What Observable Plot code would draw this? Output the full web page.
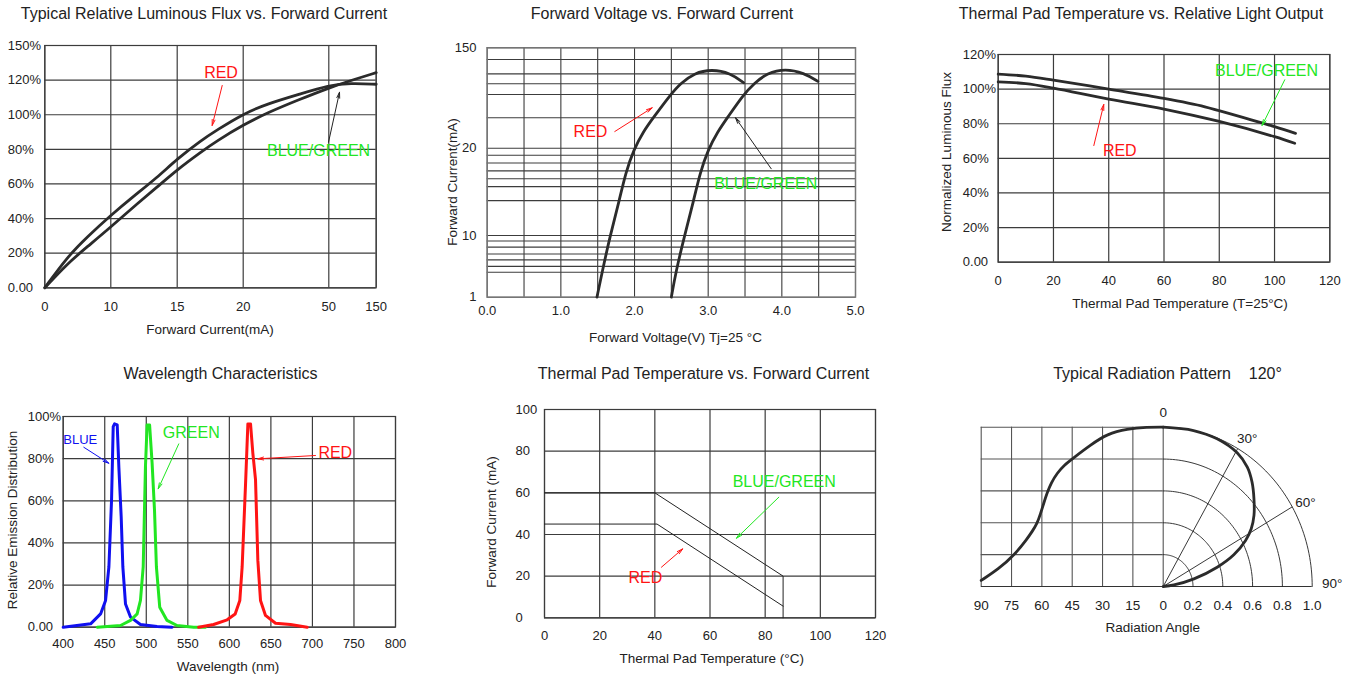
<!DOCTYPE html>
<html><head><meta charset="utf-8">
<script src="https://cdn.jsdelivr.net/npm/d3@7"></script>
<script src="https://cdn.jsdelivr.net/npm/@observablehq/plot@0.6"></script>
<style>
body{margin:0;background:#fff;}
#root{position:relative;width:1352px;height:677px;overflow:hidden;font-family:'Liberation Sans',Arial,Helvetica,sans-serif;color:#222;background:#fff;}
</style></head>
<body><div id="root"></div>
<script>
// ---------------- DATA ----------------
// Panel 1: Typical Relative Luminous Flux vs. Forward Current
const p1CurrentTicks = [0, 10, 15, 20, 50, 150];
const p1FluxTicks = [0, 20, 40, 60, 80, 100, 120, 140];
const p1FluxLabels = ["0.00", "20%", "40%", "60%", "80%", "100%", "120%", "150%"];
const p1RedCurrent = [0, 3.4, 6.4, 10, 11.7, 13.5, 15, 16.8, 18, 20, 28.4, 40, 50, 95.8, 150];
const p1RedFlux    = [0, 17.8, 29.3, 41.9, 52.8, 63.8, 74.5, 85.1, 91.1, 100.5, 106.3, 112.0, 117.0, 118.3, 117.6];
const p1BgCurrent  = [0, 3.4, 6.4, 10, 11.7, 13.5, 15, 16.8, 18, 20, 28.4, 40, 50, 95.8, 150];
const p1BgFlux     = [0, 13.9, 23.6, 35.1, 46.7, 58.3, 68.3, 78.5, 84.9, 94.1, 101.1, 109.0, 115.5, 119.7, 124.3];

// Panel 2: Forward Voltage vs. Forward Current
const p2VoltGrid = [0, 0.5, 1, 1.5, 2, 2.5, 3, 3.5, 4, 4.5, 5];
const p2VoltTicks = [0, 1, 2, 3, 4, 5];
const p2VoltLabels = ["0.0", "1.0", "2.0", "3.0", "4.0", "5.0"];
const p2CurrentTicks = [1, 10, 20, 150];
const p2CurrentLabels = ["1", "10", "20", "150"];
const p2CurrentGrid = [1, 4.65, 5.5, 6.45, 7.3, 8.3, 9.2, 10, 14, 15.6, 16.5, 17.4, 18.3, 19.2, 20, 59.4, 89.5, 103.4, 116.3, 134.8, 150];
const p2RedVolt    = [1.49, 1.56, 1.67, 1.79, 1.88, 1.99, 2.12, 2.254, 2.49, 2.62, 2.81, 3.05, 3.3, 3.48];
const p2RedCurrent = [1, 4.65, 10, 13.9, 17.2, 19.85, 41.6, 59.4, 89.6, 103.5, 117.4, 122.2, 117.4, 104.8];
const p2BgVolt     = [2.5, 2.56, 2.68, 2.80, 2.89, 3.0, 3.13, 3.26, 3.48, 3.62, 3.8, 4.05, 4.3, 4.49];
const p2BgCurrent  = [1, 4.65, 10, 13.9, 17.2, 19.85, 41.6, 59.4, 89.6, 103.5, 117.4, 123, 117.4, 106.5];

// Panel 3: Thermal Pad Temperature vs. Relative Light Output
const p3TempTicks = [0, 20, 40, 60, 80, 100, 120];
const p3FluxTicks = [0, 20, 40, 60, 80, 100, 120];
const p3FluxLabels = ["0.00", "20%", "40%", "60%", "80%", "100%", "120%"];
const p3BgTemp  = [0, 10, 20, 40, 60, 74.8, 80, 100, 107.6];
const p3BgFlux  = [108.7, 107.5, 105.2, 100, 94.6, 89.8, 87.5, 78.3, 74.4];
const p3RedTemp = [0, 10, 20, 40, 60, 80, 100, 107.3];
const p3RedFlux = [104.2, 103.2, 100.6, 94.2, 88.5, 81.3, 72.5, 68.7];

// Panel 4: Wavelength Characteristics
const p4NmTicks = [400, 450, 500, 550, 600, 650, 700, 750, 800];
const p4PctTicks = [0, 20, 40, 60, 80, 100];
const p4PctLabels = ["0.00", "20%", "40%", "60%", "80%", "100%"];
const p4BlueNm  = [400, 433, 445, 451, 455, 458.2, 460.2, 461.8, 465, 467, 469.8, 471.8, 475, 481, 493, 513, 531];
const p4BluePct = [0, 1.6, 6.3, 12.7, 28.6, 60.3, 95.2, 96.5, 96, 76, 52.4, 28.6, 11, 4.8, 1.3, 0.3, 0];
const p4GreenNm  = [441, 469, 481, 489, 493, 496.3, 499, 501, 504, 507, 509.9, 512.2, 516.2, 525, 537, 557, 571];
const p4GreenPct = [0, 0.8, 3.2, 6.3, 12.7, 28.6, 76, 96, 96, 78, 55.6, 28.6, 9.5, 3.2, 0.8, 0, 0];
const p4RedNm  = [563, 581, 597.4, 607, 612.6, 615.4, 619.5, 622.3, 625.5, 628.3, 631.5, 634.3, 637.5, 643.5, 655.6, 673.6, 693.7];
const p4RedPct = [0, 1.3, 3.5, 6.3, 12.7, 28.6, 68, 96.5, 96.5, 82.5, 70, 31.7, 12.7, 5.6, 1.9, 1.3, 0];

// Panel 5: Thermal Pad Temperature vs. Forward Current
const p5TempTicks = [0, 20, 40, 60, 80, 100, 120];
const p5CurrentTicks = [0, 20, 40, 60, 80, 100];
const p5BgTemp = [0, 40, 86.5, 86.5];
const p5BgCurrent = [60, 60, 20, 0];
const p5RedTemp = [0, 40.8, 86.5];
const p5RedCurrent = [45, 45, 5.6];

// Panel 6: Typical Radiation Pattern 120°
const p6AngleTicks = [90, 75, 60, 45, 30, 15, 0];
const p6RadiusTicks = [0.2, 0.4, 0.6, 0.8, 1.0];
const p6RadiusLabels = ["0.2", "0.4", "0.6", "0.8", "1.0"];
const p6Spokes = [30, 60];
const p6LeftAngle     = [90, 81.3, 73.5, 67.3, 64.8, 62.3, 60.7, 59.0, 57.4, 55.4, 52.4, 48.8, 45.0, 35.9, 27.7, 17.8, 7.9, 0];
const p6LeftIntensity = [0.038, 0.111, 0.199, 0.299, 0.345, 0.397, 0.456, 0.525, 0.588, 0.651, 0.713, 0.764, 0.801, 0.889, 0.958, 0.990, 1.0, 1.0];
const p6PolarAngle     = [0, 11.75, 21.3, 30.6, 37.0, 42.3, 47.9, 53.8, 58.5, 62.4, 67.2, 71.5, 76.9, 82.1, 90];
const p6PolarIntensity = [1.0, 1.0, 0.995, 0.975, 0.938, 0.886, 0.821, 0.755, 0.693, 0.624, 0.514, 0.382, 0.212, 0.073, 0];

// ---------------- HELPERS ----------------
const FONT = "'Liberation Sans', Arial, Helvetica, sans-serif";
const root = document.getElementById("root");
const GRID = "#3c3c3c", CURVE = "#2b2b2b", INK = "#222";
const RED = "#ff1414", GREEN = "#22e622", BLUE = "#1010f0";
const rad = Math.PI / 180;
const id = d => d;

function label(text, x, y, {size = 13.5, rotate = 0, color = INK} = {}) {
  const d = document.createElement("div");
  d.textContent = text;
  d.style.cssText = `position:absolute;left:${x}px;top:${y}px;font-size:${size}px;color:${color};white-space:pre;line-height:1;transform:translate(-50%,-50%) rotate(${rotate}deg);`;
  root.appendChild(d);
}
function place(svg, left, top) {
  svg.style.position = "absolute";
  svg.style.left = left + "px";
  svg.style.top = top + "px";
  root.appendChild(svg);
}
const idx = a => d3.range(a.length);
function series(xs, ys, opts, fx = id, fy = id) {
  return Plot.line(idx(xs), {x: i => fx(xs[i]), y: i => fy(ys[i]), curve: "catmull-rom", ...opts});
}
function xLabels(ticks, labels, dy, fx = id, extra = {}) {
  return Plot.text(ticks, {x: d => fx(d), text: (d, i) => labels[i], frameAnchor: "bottom", dy, lineAnchor: "middle", fontSize: 13, fill: INK, ...extra});
}
function yLabels(ticks, labels, dx, anchor = "start", fy = id, extra = {}) {
  return Plot.text(ticks, {y: d => fy(d), text: (d, i) => labels[i], frameAnchor: "left", textAnchor: anchor, dx, lineAnchor: "middle", fontSize: 13, fill: INK, ...extra});
}
function note(a, color, size = 16, fx = id, fy = id) {
  return Plot.text([a], {x: d => fx(d.x), y: d => fy(d.y), text: d => d.text, fill: color, fontSize: size, lineAnchor: "middle"});
}
function pointer(a, color, fx = id, fy = id) {
  return Plot.arrow([a], {x1: d => fx(d.x1), y1: d => fy(d.y1), x2: d => fx(d.x2), y2: d => fy(d.y2), stroke: color, strokeWidth: 1, headLength: 9, headAngle: 28});
}
const style = {fontFamily: FONT, fontSize: "13px", background: "transparent", overflow: "visible", color: INK};

// ---------------- PANEL 1 ----------------
// non-uniform current axis of the original: piecewise mapping to pixel offsets
const p1X = d3.scaleLinear().domain(p1CurrentTicks).range([0, 66, 132.4, 198.4, 284, 331.4]);
label("Typical Relative Luminous Flux vs. Forward Current", 204, 14, {size: 16});
label("Forward Current(mA)", 210, 330);
place(Plot.plot({
  width: 400, height: 300,
  marginLeft: 44.3, marginRight: 24.3, marginTop: 15, marginBottom: 42.7,
  x: {domain: [0, 331.4], axis: null},
  y: {domain: [0, 140], axis: null},
  style,
  marks: [
    Plot.ruleX(p1CurrentTicks, {x: d => p1X(d), stroke: GRID, strokeWidth: 1.2}),
    Plot.ruleY(p1FluxTicks, {stroke: GRID, strokeWidth: 1.2}),
    Plot.frame({stroke: GRID, strokeWidth: 1.2}),
    series(p1RedCurrent, p1RedFlux, {stroke: CURVE, strokeWidth: 2.8, curve: "basis"}, p1X),
    series(p1BgCurrent, p1BgFlux, {stroke: CURVE, strokeWidth: 2.8, curve: "basis"}, p1X),
    xLabels(p1CurrentTicks, p1CurrentTicks.map(String), 19.4, p1X),
    yLabels(p1FluxTicks, p1FluxLabels, -37),
    note({x: 18.32, y: 124.4, text: "RED"}, RED, 16, p1X),
    pointer({x1: 18.41, y1: 116.9, x2: 17.65, y2: 93.8}, RED, p1X),
    note({x: 46.4, y: 79.3, text: "BLUE/GREEN"}, GREEN, 16, p1X),
    pointer({x1: 49.9, y1: 84.1, x2: 72.6, y2: 113.0}, "#222", p1X)
  ]
}), 0, 30);

// ---------------- PANEL 2 ----------------
const p2Y = d3.scaleLinear().domain(p2CurrentTicks).range([0, 61.7, 149, 249.4]);
label("Forward Voltage vs. Forward Current", 662, 14, {size: 16});
label("Forward Voltage(V) Tj=25 °C", 675.5, 338.3);
label("Forward Current(mA)", 453.3, 181.5, {rotate: -90});
place(Plot.plot({
  width: 440, height: 320,
  marginLeft: 56.7, marginRight: 15, marginTop: 17.3, marginBottom: 53.3,
  x: {domain: [0, 5], axis: null},
  y: {domain: [0, 249.4], axis: null},
  style,
  marks: [
    Plot.ruleX(p2VoltGrid, {stroke: GRID, strokeWidth: 1.1}),
    Plot.ruleY(p2CurrentGrid, {y: d => p2Y(d), stroke: GRID, strokeWidth: 1.1}),
    Plot.frame({stroke: "#777", strokeWidth: 1.4}),
    series(p2RedVolt, p2RedCurrent, {stroke: CURVE, strokeWidth: 2.8, curve: "basis"}, id, p2Y),
    series(p2BgVolt, p2BgCurrent, {stroke: CURVE, strokeWidth: 2.8, curve: "basis"}, id, p2Y),
    xLabels(p2VoltTicks, p2VoltLabels, 13.3),
    yLabels(p2CurrentTicks, p2CurrentLabels, -10.7, "end", p2Y),
    note({x: 1.402, y: 41.6, text: "RED"}, RED, 16, id, p2Y),
    pointer({x1: 1.732, y1: 41.6, x2: 2.24, y2: 72.3}, RED, id, p2Y),
    note({x: 3.781, y: 15.92, text: "BLUE/GREEN"}, GREEN, 16, id, p2Y),
    pointer({x1: 3.856, y1: 17.64, x2: 3.371, y2: 59.4}, "#222", id, p2Y)
  ]
}), 430, 30);

// ---------------- PANEL 3 ----------------
label("Thermal Pad Temperature vs. Relative Light Output", 1141, 14, {size: 16});
label("Thermal Pad Temperature (T=25°C)", 1180, 304.3);
label("Normalized Luminous Flux", 946.7, 151.7, {rotate: -90});
place(Plot.plot({
  width: 422, height: 290,
  marginLeft: 67.7, marginRight: 22.7, marginTop: 24, marginBottom: 58.3,
  x: {domain: [0, 120], axis: null},
  y: {domain: [0, 120], axis: null},
  style,
  marks: [
    Plot.ruleX(p3TempTicks, {stroke: GRID, strokeWidth: 1.2}),
    Plot.ruleY(p3FluxTicks, {stroke: GRID, strokeWidth: 1.2}),
    Plot.frame({stroke: GRID, strokeWidth: 1.2}),
    series(p3BgTemp, p3BgFlux, {stroke: CURVE, strokeWidth: 2.8}),
    series(p3RedTemp, p3RedFlux, {stroke: CURVE, strokeWidth: 2.8}),
    xLabels(p3TempTicks, p3TempTicks.map(String), 18.3),
    yLabels(p3FluxTicks, p3FluxLabels, -35.4),
    note({x: 97.1, y: 110.4, text: "BLUE/GREEN"}, GREEN),
    pointer({x1: 103.7, y1: 105.4, x2: 95.5, y2: 79.0}, GREEN),
    note({x: 44.0, y: 64.1, text: "RED"}, RED),
    pointer({x1: 34.6, y1: 67.4, x2: 38.2, y2: 91.1}, RED)
  ]
}), 930, 30);

// ---------------- PANEL 4 ----------------
label("Wavelength Characteristics", 220.5, 374, {size: 16});
label("Wavelength (nm)", 228, 666.7);
label("Relative Emission Distribution", 12.7, 519.5, {rotate: -90});
place(Plot.plot({
  width: 410, height: 277,
  marginLeft: 62.7, marginRight: 15, marginTop: 16, marginBottom: 50.3,
  x: {domain: [400, 800], axis: null},
  y: {domain: [0, 100], axis: null},
  style,
  marks: [
    Plot.ruleX(p4NmTicks, {stroke: GRID, strokeWidth: 1.2}),
    Plot.ruleY(p4PctTicks, {stroke: GRID, strokeWidth: 1.2}),
    Plot.frame({stroke: GRID, strokeWidth: 1.2}),
    series(p4BlueNm, p4BluePct, {stroke: BLUE, strokeWidth: 3, curve: "linear"}),
    series(p4GreenNm, p4GreenPct, {stroke: GREEN, strokeWidth: 3, curve: "linear"}),
    series(p4RedNm, p4RedPct, {stroke: RED, strokeWidth: 3, curve: "linear"}),
    xLabels(p4NmTicks, p4NmTicks.map(String), 16.6),
    yLabels(p4PctTicks, p4PctLabels, -35.4),
    note({x: 420.5, y: 89.1, text: "BLUE"}, BLUE, 13),
    pointer({x1: 424.8, y1: 85.4, x2: 454.9, y2: 77.8}, BLUE),
    note({x: 554.2, y: 92.3, text: "GREEN"}, GREEN),
    pointer({x1: 539.1, y1: 87.0, x2: 514.4, y2: 65.7}, GREEN),
    note({x: 727.5, y: 82.8, text: "RED"}, RED),
    pointer({x1: 703.7, y1: 81.5, x2: 634.2, y2: 79.9}, RED)
  ]
}), 0, 400);

// ---------------- PANEL 5 ----------------
label("Thermal Pad Temperature vs. Forward Current", 703.5, 374, {size: 16});
label("Thermal Pad Temperature (°C)", 711.7, 659.3);
label("Forward Current (mA)", 491.7, 522, {rotate: -90});
place(Plot.plot({
  width: 420, height: 282,
  marginLeft: 74, marginRight: 15, marginTop: 14, marginBottom: 59.7,
  x: {domain: [0, 120], axis: null},
  y: {domain: [0, 100], axis: null},
  style,
  marks: [
    Plot.ruleX(p5TempTicks, {stroke: GRID, strokeWidth: 1.2}),
    Plot.ruleY(p5CurrentTicks, {stroke: GRID, strokeWidth: 1.2}),
    Plot.frame({stroke: GRID, strokeWidth: 1.2}),
    series(p5BgTemp, p5BgCurrent, {stroke: INK, strokeWidth: 1, curve: "linear"}),
    series(p5RedTemp, p5RedCurrent, {stroke: INK, strokeWidth: 1, curve: "linear"}),
    xLabels(p5TempTicks, p5TempTicks.map(String), 17.7),
    yLabels(p5CurrentTicks, p5CurrentTicks.map(String), -29),
    note({x: 86.9, y: 65.1, text: "BLUE/GREEN"}, GREEN),
    pointer({x1: 84.95, y1: 57.9, x2: 69.6, y2: 38.2}, GREEN),
    note({x: 36.6, y: 19.0, text: "RED"}, RED),
    pointer({x1: 42.4, y1: 24.3, x2: 50.1, y2: 33.1}, RED)
  ]
}), 470, 395);

// ---------------- PANEL 6 ----------------
// left half: angle in degrees (Cartesian), right half: polar radius units
const p6X = d3.scaleLinear().domain([-90, 0, 1]).range([-182, 0, 149]);
label("Typical Radiation Pattern    120°", 1167.5, 374, {size: 16});
label("Radiation Angle", 1152.7, 628.3);
const arcPts = p6RadiusTicks.flatMap(r => d3.range(0, 90.001, 1.5).map(t => ({r, t})));
const p6BottomTicks = [...p6AngleTicks.map(a => -a), ...p6RadiusTicks];
const p6BottomLabels = [...p6AngleTicks.map(String), ...p6RadiusLabels];
place(Plot.plot({
  width: 412, height: 250,
  marginLeft: 40.7, marginRight: 40.3, marginTop: 31.7, marginBottom: 59,
  x: {domain: [-182, 149], axis: null},
  y: {domain: [0, 1], axis: null},
  style,
  marks: [
    Plot.ruleX(p6AngleTicks, {x: d => p6X(-d), y1: 0, y2: 1, stroke: "#555", strokeWidth: 1.1}),
    Plot.ruleY(p6RadiusTicks, {y: d => d, x1: p6X(-90), x2: 0, stroke: "#555", strokeWidth: 1.1}),
    Plot.ruleY([0], {x1: p6X(-90), x2: p6X(1), stroke: "#333", strokeWidth: 1.2}),
    Plot.line(arcPts, {x: d => p6X(d.r * Math.sin(d.t * rad)), y: d => d.r * Math.cos(d.t * rad), z: d => d.r, stroke: "#222", strokeWidth: 0.9}),
    Plot.link(p6Spokes, {x1: 0, y1: 0, x2: t => p6X(Math.sin(t * rad)), y2: t => Math.cos(t * rad), stroke: "#222", strokeWidth: 0.9}),
    series(p6LeftAngle, p6LeftIntensity, {stroke: CURVE, strokeWidth: 2.8, curve: "basis"}, a => p6X(-a)),
    Plot.line(idx(p6PolarAngle), {
      x: i => p6X(p6PolarIntensity[i] * Math.sin(p6PolarAngle[i] * rad)),
      y: i => p6PolarIntensity[i] * Math.cos(p6PolarAngle[i] * rad),
      curve: "catmull-rom", stroke: CURVE, strokeWidth: 2.8
    }),
    xLabels(p6BottomTicks, p6BottomLabels, 19, p6X, {fontSize: 13.5}),
    Plot.text([{x: 0, y: 1.094, t: "0"}, {x: 0.564, y: 0.927, t: "30°"}, {x: 0.955, y: 0.529, t: "60°"}, {x: 1.134, y: 0.017, t: "90°"}],
      {x: d => p6X(d.x), y: "y", text: "t", fontSize: 13.5, fill: INK})
  ]
}), 940, 395);
</script>
</body></html>
